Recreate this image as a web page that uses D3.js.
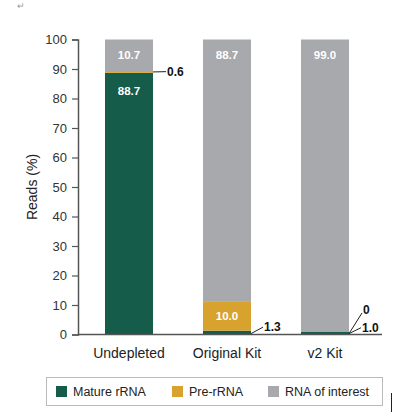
<!DOCTYPE html>
<html>
<head>
<meta charset="utf-8">
<script src="https://cdn.jsdelivr.net/npm/d3@7"></script>
<style>
  body { margin: 0; background: #fff; }
  svg { font-family: "Liberation Sans", Arial, sans-serif; }
</style>
</head>
<body>
<div id="chart"></div>
<script>
// data
var categories = ["Undepleted", "Original Kit", "v2 Kit"];
var matureRRNA = [88.7, 1.3, 1.0];
var preRRNA = [0.6, 10.0, 0];
var rnaOfInterest = [10.7, 88.7, 99.0];
var seriesNames = ["Mature rRNA", "Pre-rRNA", "RNA of interest"];
var yTicks = [0, 10, 20, 30, 40, 50, 60, 70, 80, 90, 100];

var colors = ["#155c4b", "#d8a22e", "#a7a9ac"];

var width = 394, height = 416;
var svg = d3.select("#chart")
    .append("svg")
    .attr("width", width)
    .attr("height", height);

// stray marks in the original picture
svg.append("text")
    .attr("x", 17)
    .attr("y", 9)
    .attr("font-size", 9)
    .attr("fill", "#999")
    .text("↵");
svg.append("line")
    .attr("x1", 391.5).attr("x2", 391.5)
    .attr("y1", 393).attr("y2", 412)
    .attr("stroke", "#222")
    .attr("stroke-width", 1);

var x = d3.scaleBand()
    .domain(categories)
    .range([56, 398])
    .paddingInner(0.51)
    .paddingOuter(0.5);

var y = d3.scaleLinear()
    .domain([0, 100])
    .range([334.5, 39.5]);

// table for the stack
var table = categories.map(function(c, i) {
    return {cat: c, s0: matureRRNA[i], s1: preRRNA[i], s2: rnaOfInterest[i]};
});
var stack = d3.stack().keys(["s0", "s1", "s2"]);
var layers = stack(table);

svg.selectAll("g.layer")
    .data(layers)
    .enter()
    .append("g")
    .attr("class", "layer")
    .attr("fill", function(d, i) { return colors[i]; })
    .selectAll("rect")
    .data(function(d) { return d; })
    .enter()
    .append("rect")
    .attr("x", function(d) { return x(d.data.cat); })
    .attr("y", function(d) { return y(Math.min(d[1], 100)); })
    .attr("width", x.bandwidth())
    .attr("height", function(d) { return Math.max(0, y(d[0]) - y(Math.min(d[1], 100))); });

// y axis
var yAxis = d3.axisLeft(y)
    .tickValues(yTicks)
    .tickSize(6)
    .tickPadding(5);

var gy = svg.append("g")
    .attr("transform", "translate(78,0)")
    .call(yAxis);
gy.select(".domain").attr("stroke", "#555").attr("stroke-width", 1.5);
gy.selectAll(".tick line").attr("stroke", "#555").attr("stroke-width", 1.2);
gy.selectAll(".tick text")
    .attr("font-size", 13)
    .attr("fill", "#333")
    .attr("font-family", "Liberation Sans, Arial, sans-serif");

// baseline
svg.append("line")
    .attr("x1", 78).attr("x2", 382)
    .attr("y1", y(0)).attr("y2", y(0))
    .attr("stroke", "#555")
    .attr("stroke-width", 1.5);

// x labels
svg.selectAll("text.xlab")
    .data(categories)
    .enter()
    .append("text")
    .attr("class", "xlab")
    .attr("x", function(d) { return x(d) + x.bandwidth() / 2; })
    .attr("y", 358)
    .attr("text-anchor", "middle")
    .attr("font-size", 14)
    .attr("fill", "#222")
    .text(function(d) { return d; });

// y title
svg.append("text")
    .attr("transform", "translate(37,187) rotate(-90)")
    .attr("text-anchor", "middle")
    .attr("font-size", 14)
    .attr("fill", "#222")
    .text("Reads (%)");

// white labels inside the bars
var inside = [
    {i: 0, v: rnaOfInterest[0], yv: 94.8},
    {i: 0, v: matureRRNA[0], yv: 82.5},
    {i: 1, v: rnaOfInterest[1], yv: 94.8},
    {i: 1, v: preRRNA[1], yv: 6.3},
    {i: 2, v: rnaOfInterest[2], yv: 94.8}
];
svg.selectAll("text.inlab")
    .data(inside)
    .enter()
    .append("text")
    .attr("class", "inlab")
    .attr("x", function(d) { return x(categories[d.i]) + x.bandwidth() / 2; })
    .attr("y", function(d) { return y(d.yv); })
    .attr("dy", "0.35em")
    .attr("text-anchor", "middle")
    .attr("font-size", 11.5)
    .attr("font-weight", "bold")
    .attr("fill", "#fff")
    .text(function(d) { return d.v.toFixed(1); });

// callouts for small segments
var callouts = [
    {i: 0, v: preRRNA[0], y0: matureRRNA[0] + preRRNA[0] / 2, dx: 13, ty: 89.1, txt: "0.6"},
    {i: 1, v: matureRRNA[1], y0: 0.3, dx: 12, ty: 2.5, txt: "1.3"},
    {i: 2, v: preRRNA[2], y0: 0.3, dx: 13, ty: 7.3, txt: "0"},
    {i: 2, v: matureRRNA[2], y0: 0.3, dx: 12, ty: 2.3, txt: "1.0"}
];
callouts.forEach(function(c) {
    var bx = x(categories[c.i]) + x.bandwidth();
    svg.append("line")
        .attr("x1", bx).attr("y1", y(c.y0))
        .attr("x2", bx + c.dx).attr("y2", y(c.ty))
        .attr("stroke", "#222")
        .attr("stroke-width", 1);
    svg.append("text")
        .attr("x", bx + c.dx + 1)
        .attr("y", y(c.ty) - (c.txt === "0" ? 3 : 0))
        .attr("dy", "0.35em")
        .attr("font-size", 12)
        .attr("font-weight", "bold")
        .attr("fill", "#111")
        .text(c.txt);
});

// legend
svg.append("rect")
    .attr("x", 46.5).attr("y", 377.5)
    .attr("width", 336).attr("height", 28)
    .attr("fill", "#fff")
    .attr("stroke", "#bbb")
    .attr("stroke-width", 1);

var legX = [56, 172, 268];
var leg = svg.selectAll("g.leg")
    .data(seriesNames)
    .enter()
    .append("g")
    .attr("class", "leg")
    .attr("transform", function(d, i) { return "translate(" + legX[i] + ",386)"; });
leg.append("rect")
    .attr("width", 11).attr("height", 11)
    .attr("fill", function(d, i) { return colors[i]; });
leg.append("text")
    .attr("x", 17)
    .attr("y", 10)
    .attr("font-size", 12.5)
    .attr("fill", "#222")
    .text(function(d) { return d; });
</script>
</body>
</html>
